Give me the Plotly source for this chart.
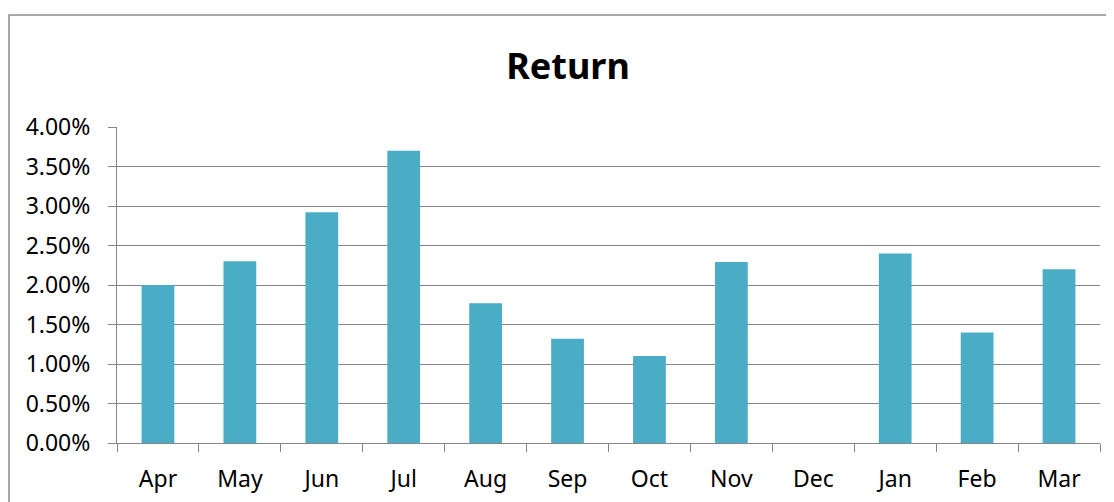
import plotly.graph_objects as go

months = ["Apr", "May", "Jun", "Jul", "Aug", "Sep", "Oct", "Nov", "Dec", "Jan", "Feb", "Mar"]
returns = [0.0200, 0.0230, 0.0292, 0.0370, 0.0177, 0.0132, 0.0110, 0.0229, 0.0, 0.0240, 0.0140, 0.0220]
y_ticks = [0.0, 0.005, 0.01, 0.015, 0.02, 0.025, 0.03, 0.035, 0.04]

# page body has an 8px margin, so the figure is 8px smaller than the window
W, H = 1106, 494
ml, mr, mt, mb = 109, 14, 119, 59
pw, ph = W - ml - mr, H - mt - mb

def px_x(p):
    return (p - ml) / pw

def px_y(p):
    return (H - mb - p) / ph

fig = go.Figure(go.Bar(
    x=months, y=returns,
    marker=dict(color="#4BACC6", line=dict(width=0)),
))

font_family = "'Noto Sans', 'Open Sans', sans-serif"
fig.update_layout(
    width=W, height=H,
    margin=dict(l=ml, r=mr, t=mt, b=mb, autoexpand=False),
    paper_bgcolor="white", plot_bgcolor="white",
    bargap=0.6,
    showlegend=False,
    font=dict(family=font_family, size=23, color="#000000"),
    title=dict(text="<b>Return</b>", x=560 / W, xref="container", xanchor="center",
               y=1 - 58 / H, yref="container", yanchor="middle",
               font=dict(size=36, family=font_family, color="#000")),
    shapes=[dict(type="rect", xref="paper", yref="paper",
                 x0=px_x(1), x1=px_x(1120), y0=px_y(510), y1=px_y(7),
                 line=dict(color="#8c8c8c", width=1.5), fillcolor="rgba(0,0,0,0)", layer="below")],
)
fig.update_xaxes(
    type="category", automargin=False, showline=True, linecolor="#868686", linewidth=1,
    ticks="outside", tickson="boundaries", ticklen=8, tickcolor="#868686",
    showgrid=False, ticklabelstandoff=15,
    tickfont=dict(size=23, family=font_family, color="#000"),
)
fig.update_yaxes(
    range=[0, 0.04], tickvals=y_ticks, tickformat=".2%", automargin=False,
    showline=True, linecolor="#868686", linewidth=1,
    ticks="outside", ticklen=8, tickcolor="#868686",
    showgrid=True, gridcolor="#868686", gridwidth=1, zeroline=False,
    ticklabelstandoff=13,
    tickfont=dict(size=23, family=font_family, color="#000"),
)

fig.write_html("out.html")
